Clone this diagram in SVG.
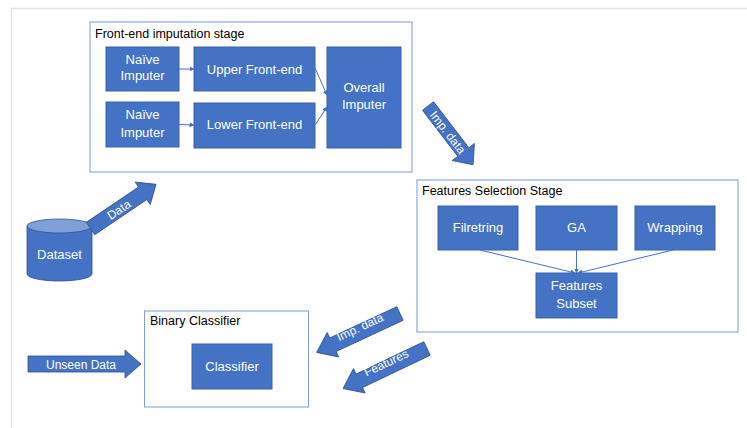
<svg xmlns="http://www.w3.org/2000/svg" width="747" height="428" viewBox="0 0 747 428">
<defs>
<style>
.frame{fill:none;stroke:#e2e2e2;stroke-width:1.5}
.cont{fill:#fff;stroke:#7f9bd0;stroke-width:1}
.box{fill:#4472c4;stroke:#3a62ad;stroke-width:1}
.blk{fill:#4472c4;stroke:#2f528f;stroke-width:0.8}
.t{font-family:"Liberation Sans",Arial,sans-serif;font-size:13px;fill:#fff;text-anchor:middle}
.tt{font-family:"Liberation Sans",Arial,sans-serif;font-size:12.5px;fill:#000}
.at{font-family:"Liberation Sans",Arial,sans-serif;font-size:12px;fill:#fff;text-anchor:middle}
.ln{fill:none;stroke:#4472c4;stroke-width:1;marker-end:url(#ah)}
</style>
<marker id="ah" viewBox="0 0 10 10" refX="9" refY="5" markerWidth="5" markerHeight="5" orient="auto" markerUnits="userSpaceOnUse">
<path d="M0,0 L10,5 L0,10 z" fill="#4472c4"/>
</marker>
</defs>
<rect width="747" height="428" fill="#fff"/>
<path class="frame" d="M11.5,428 V8.5 H747"/>

<g id="frontend-stage">
<rect class="cont" x="90" y="22" width="322" height="150"/>
<text class="tt" x="95" y="37.5">Front-end imputation stage</text>
</g>
<g id="naive1"><rect class="box" x="106" y="47" width="73" height="44"/><text class="t" x="142.5" y="63.5">Naïve</text><text class="t" x="142.5" y="80">Imputer</text></g>
<g id="upper"><rect class="box" x="194" y="47" width="121" height="44"/><text class="t" x="254.5" y="73.5">Upper Front-end</text></g>
<g id="naive2"><rect class="box" x="106" y="102" width="73" height="45"/><text class="t" x="142.5" y="119">Naïve</text><text class="t" x="142.5" y="136.5">Imputer</text></g>
<g id="lower"><rect class="box" x="194" y="103" width="121" height="45"/><text class="t" x="254.5" y="128.5">Lower Front-end</text></g>
<g id="overall"><rect class="box" x="327" y="47" width="74" height="101"/><text class="t" x="364" y="91.5">Overall</text><text class="t" x="364" y="109">Imputer</text></g>

<g id="fs-stage">
<rect class="cont" x="417" y="180" width="321" height="152"/>
<text class="tt" x="422" y="195">Features Selection Stage</text>
</g>
<g id="filtering"><rect class="box" x="438" y="206" width="80" height="44"/><text class="t" x="478" y="232">Filretring</text></g>
<g id="ga"><rect class="box" x="536" y="206" width="81" height="44"/><text class="t" x="576.5" y="232">GA</text></g>
<g id="wrapping"><rect class="box" x="635" y="206" width="80" height="44"/><text class="t" x="675" y="232">Wrapping</text></g>
<g id="subset"><rect class="box" x="536" y="273" width="81" height="45"/><text class="t" x="576.5" y="290">Features</text><text class="t" x="576.5" y="307.5">Subset</text></g>

<g id="binary-classifier">
<rect class="cont" x="144.5" y="311" width="164" height="96"/>
<text class="tt" x="150" y="325">Binary Classifier</text>
</g>
<g id="classifier"><rect class="box" x="192" y="344" width="80" height="45"/><text class="t" x="232" y="371">Classifier</text></g>

<g id="dataset">
<path class="blk" d="M27,226 V274 A32.5,7 0 0 0 92,274 V226 Z"/>
<ellipse cx="59.5" cy="226" rx="32.5" ry="7" fill="#7f9fd8" stroke="#2f528f" stroke-width="0.8"/>
<text class="t" x="59.5" y="259">Dataset</text>
</g>

<g id="connectors">
<line class="ln" x1="179" y1="69" x2="194" y2="69"/>
<line class="ln" x1="179" y1="124.5" x2="194" y2="125"/>
<line class="ln" x1="315" y1="68" x2="327" y2="95"/>
<line class="ln" x1="315" y1="125" x2="327" y2="107"/>
<line class="ln" x1="480" y1="250" x2="575" y2="273"/>
<line class="ln" x1="576.5" y1="250" x2="576.5" y2="273"/>
<line class="ln" x1="673" y1="250" x2="578" y2="273"/>

<g transform="translate(90.5,228.5) rotate(-34)">
<path class="blk" d="M0,-7.5 H63 V-13.5 L79,0 L63,13.5 V7.5 H0 Z"/>
<text class="at" x="34" y="4.5">Data</text>
</g>
<g transform="translate(428,106) rotate(52.5)">
<path class="blk" d="M0,-7 H58 V-14 L74,0 L58,14 V7 H0 Z"/>
<text class="at" x="33" y="4.5">Imp. data</text>
</g>
<g transform="translate(28,364)">
<path class="blk" d="M0,-8 H97 V-14 L113,0 L97,14 V8 H0 Z"/>
<text class="at" x="53" y="4.5">Unseen Data</text>
</g>
<g transform="translate(400,313.5) rotate(155)">
<path class="blk" d="M0,-7.5 H74 V-13.5 L92,0 L74,13.5 V7.5 H0 Z"/>
<text class="at" x="-42" y="-0.5" transform="rotate(180)">Imp. data</text>
</g>
<g transform="translate(427,348.5) rotate(154.5)">
<path class="blk" d="M0,-7.5 H75 V-13.5 L93,0 L75,13.5 V7.5 H0 Z"/>
<text class="at" x="-43" y="-0.5" transform="rotate(180)">Features</text>
</g>
</g>
</svg>
